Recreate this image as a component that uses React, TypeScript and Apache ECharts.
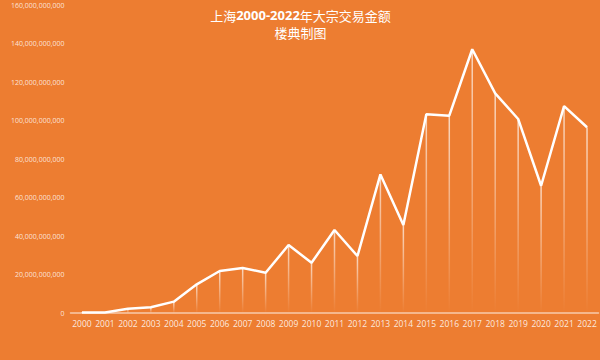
import React, { useEffect, useRef } from "react";
import * as echarts from "echarts";

const years = ["2000","2001","2002","2003","2004","2005","2006","2007","2008","2009","2010","2011","2012","2013","2014","2015","2016","2017","2018","2019","2020","2021","2022"];
const amounts = [0.2e9, 0.3e9, 2.2e9, 3.0e9, 5.9e9, 14.9e9, 21.8e9, 23.4e9, 20.9e9, 35.3e9, 26.1e9, 43.1e9, 29.6e9, 72.0e9, 45.7e9, 103.2e9, 102.5e9, 137.0e9, 114.1e9, 100.8e9, 66.1e9, 107.5e9, 96.5e9];
const titleLine1 = ["上海", "2000-2022", "年大宗交易金额"];
const titleLine2 = "楼典制图";

export default function App() {
  const ref = useRef<HTMLDivElement>(null);
  useEffect(() => {
    if (!ref.current) return;
    const chart = echarts.init(ref.current, null, { renderer: "svg" });
    chart.setOption({
      animation: false,
      backgroundColor: "#ED7D31",
      graphic: [
        {
          type: "text",
          x: 300.5,
          y: 15,
          style: {
            text: `{a|${titleLine1[0]}}{b|${titleLine1[1]}}{a|${titleLine1[2]}}`,
            align: "center",
            verticalAlign: "middle",
            rich: {
              a: { fontFamily: "Noto Sans CJK SC", fontSize: 13, fill: "#fff" },
              b: { fontFamily: "Open Sans", fontSize: 13, fontWeight: "bold", fill: "#fff" },
            },
          },
        },
        {
          type: "text",
          x: 300.5,
          y: 32,
          style: {
            text: titleLine2,
            align: "center",
            verticalAlign: "middle",
            fontFamily: "Noto Sans CJK SC",
            fontSize: 13,
            fill: "#fff",
          },
        },
      ],
      grid: { left: 70.5, right: 1.5, top: 5, bottom: 47, containLabel: false },
      xAxis: {
        type: "category",
        data: years,
        boundaryGap: true,
        axisLine: { lineStyle: { color: "rgba(255,255,255,0.6)", width: 1.5 } },
        axisTick: { show: false },
        axisLabel: { color: "rgba(255,255,255,0.85)", fontSize: 8.5, fontFamily: "Open Sans", margin: 6, interval: 0 },
      },
      yAxis: {
        type: "value",
        min: 0,
        max: 160e9,
        interval: 20e9,
        axisLine: { show: false },
        axisTick: { show: false },
        splitLine: { show: false },
        axisLabel: {
          color: "rgba(255,255,255,0.8)",
          fontSize: 7,
          fontFamily: "Open Sans",
          margin: 6,
          formatter: (v: number) => v.toLocaleString("en-US"),
        },
      },
      series: [
        {
          type: "bar",
          data: amounts,
          barWidth: 1.5,
          silent: true,
          itemStyle: {
            color: new echarts.graphic.LinearGradient(0, 0, 0, 1, [
              { offset: 0, color: "rgba(255,255,255,0.7)" },
              { offset: 1, color: "rgba(255,255,255,0)" },
            ]),
          },
        },
        {
          type: "line",
          data: amounts,
          symbol: "none",
          lineStyle: { color: "#fff", width: 2.5 },
        },
      ],
    });
    return () => chart.dispose();
  }, []);
  return <div ref={ref} style={{ position: "fixed", left: 0, top: 0, width: 600, height: 360 }} />;
}
